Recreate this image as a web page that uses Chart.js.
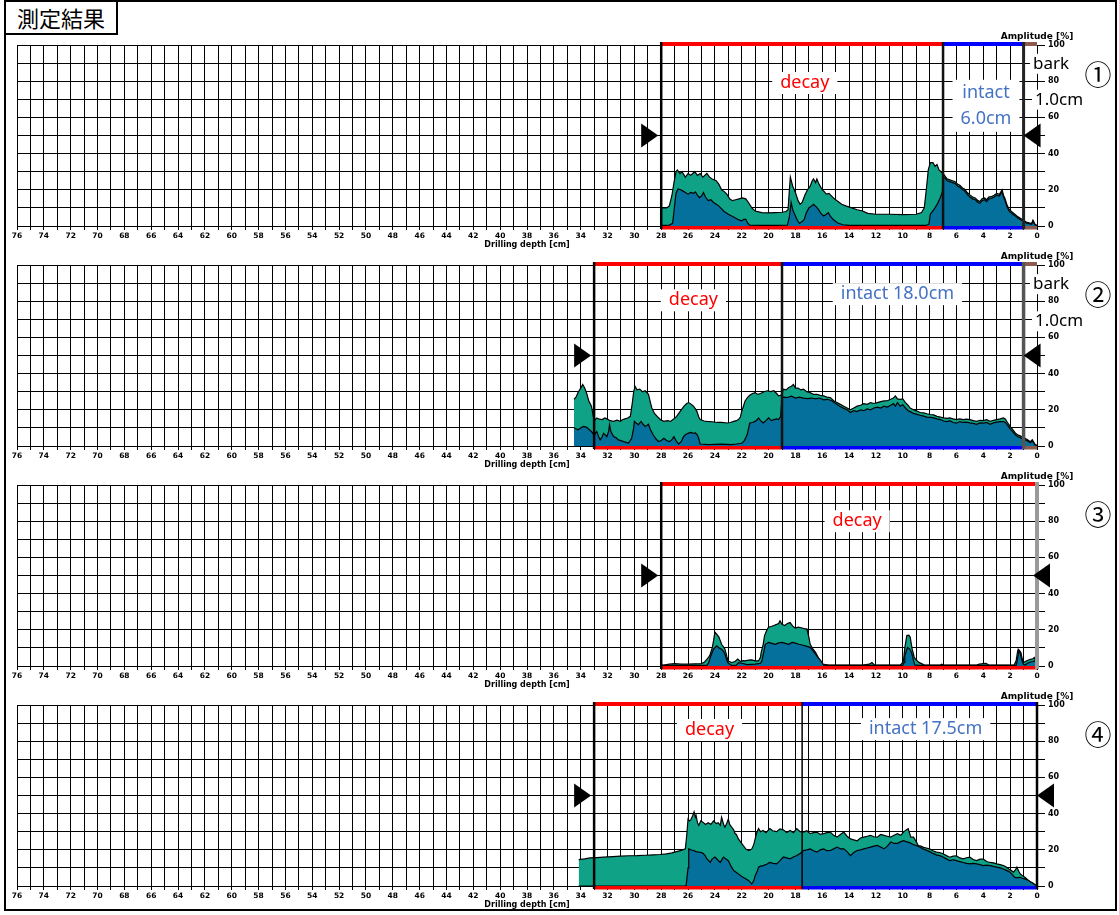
<!DOCTYPE html>
<html>
<head>
<meta charset="utf-8">
<script src="https://cdn.jsdelivr.net/npm/chart.js@4.4.0/dist/chart.umd.min.js"></script>
<style>
  body { margin: 0; background: #fff; }
  #wrap { position: relative; width: 1119px; height: 915px; overflow: hidden; }
  #frame { position: absolute; left: 4px; top: 0; width: 1113px; height: 911px; border: 2px solid #000; box-sizing: border-box; }
  #title { position: absolute; left: 4px; top: 0; width: 114px; height: 35px; border: 2px solid #000; box-sizing: border-box;
           background: #fff; font: 22px "Noto Sans CJK JP"; line-height: 30px; padding-left: 11px; }
  canvas.panel { position: absolute; left: 0; }
</style>
</head>
<body>
<div id="wrap">
  <div id="frame"></div>
  <canvas id="c1" class="panel" width="1119" height="240" style="top:20px"></canvas>
  <canvas id="c2" class="panel" width="1119" height="240" style="top:240px"></canvas>
  <canvas id="c3" class="panel" width="1119" height="240" style="top:460px"></canvas>
  <canvas id="c4" class="panel" width="1119" height="240" style="top:680px"></canvas>
  <div id="title">測定結果</div>
</div>
<script>
// [depth cm, amplitude %] — green = drill resistance, blue = feed force
const p1Drill = [[28,10],[27.6,10],[27.4,11],[27.2,17],[27.05,24],[26.9,30],[26.8,31],[26.6,29],[26.45,30],[26.2,27],[26,29],[25.8,28],[25.5,30],[25.3,28],[25.1,29],[24.9,27],[24.6,29],[24.4,27],[24.2,26],[23.9,25],[23.7,23],[23.5,20],[23.3,19],[23.1,17.5],[22.9,15],[22.7,14],[22.45,14.5],[22.2,15],[21.95,15.5],[21.7,15],[21.5,13],[21.25,10],[21,8.3],[20.5,7.4],[20,7.2],[19.5,7.4],[19,7.6],[18.7,8],[18.55,9],[18.45,20],[18.38,27],[18.2,22],[18,18.5],[17.8,14],[17.65,12],[17.5,13],[17.3,17],[17.1,20],[16.9,22],[16.75,25],[16.65,26],[16.5,24],[16.4,26],[16.3,24],[16.15,22],[16,20],[15.85,19],[15.7,17.6],[15.5,18],[15.3,16.5],[15.1,15],[14.9,14],[14.55,12],[14.2,11],[13.8,10],[13.4,9],[13,8.3],[12.6,7],[12,6.5],[11,6.5],[10,6.3],[9,6.5],[8.6,7.4],[8.4,10],[8.25,20],[8.1,31],[7.95,35],[7.75,35],[7.6,33],[7.45,34],[7.3,31],[7.15,30],[7,29],[6.85,27.5],[6.7,26],[6.5,25.5],[6.3,25],[6.1,24.5],[5.9,23],[5.75,22.5],[5.55,21],[5.4,20.5],[5.2,18.5],[5,17.2],[4.8,16],[4.6,15.5],[4.4,14],[4.25,13.5],[4.1,15],[3.9,15.5],[3.75,14.5],[3.6,16],[3.4,16.2],[3.2,17],[3,18],[2.8,17.5],[2.6,20],[2.5,17],[2.4,15.5],[2.25,12],[2.1,9.5],[1.9,8],[1.7,6.8],[1.5,5.5],[1.3,4.5],[1,3.2],[0.8,2.2],[0.6,1.8],[0.4,1.4],[0.3,3.2],[0.15,1],[0,0.3]];
const p1Feed = [[28,0.3],[27.4,0.5],[27.15,1.5],[27.05,8],[26.9,18],[26.75,20.5],[26.55,20],[26.4,19.4],[26.2,18.5],[26,17.6],[25.8,18.5],[25.6,18],[25.45,18.8],[25.3,17],[25.15,15.7],[25,16.5],[24.85,18.5],[24.7,16],[24.5,14],[24.3,14.5],[24.1,13],[23.9,12],[23.7,11],[23.5,9.5],[23.35,8.3],[23.2,7.5],[23,6.5],[22.75,5.5],[22.5,4.6],[22.25,3.5],[22,2.8],[21.85,3.7],[21.7,3.7],[21.55,1.5],[21.4,0.4],[20,0.3],[18.6,0.4],[18.45,5],[18.32,13],[18.2,9],[18,5.5],[17.85,3],[17.7,1.5],[17.5,2.5],[17.35,3.5],[17.2,7],[17,10],[16.8,11],[16.65,12],[16.5,11],[16.3,9.3],[16.1,7],[15.9,5.5],[15.7,6.5],[15.55,7.4],[15.4,5.5],[15.2,3.7],[15,2.5],[14.8,1.5],[14.45,0.7],[14,0.3],[8.3,0.3],[8.05,1],[7.95,6.5],[7.8,8],[7.6,10],[7.4,12.5],[7.2,15.7],[7.05,19],[7,27],[6.85,26.5],[6.7,25],[6.5,24.5],[6.3,24],[6.1,23.5],[5.9,22],[5.75,21.5],[5.55,20],[5.4,19.5],[5.2,17.5],[5,16],[4.8,15],[4.6,14.5],[4.4,13],[4.25,12.5],[4.1,14],[3.9,14.5],[3.75,13.5],[3.6,15],[3.4,15.2],[3.2,16],[3,17],[2.8,16.5],[2.6,19],[2.5,16],[2.4,14.5],[2.25,11],[2.1,8.5],[1.9,7],[1.7,6],[1.5,4.8],[1.3,3.8],[1,2.6],[0.8,1.7],[0.6,1.3],[0.4,1],[0.3,2.8],[0.15,0.7],[0,0.2]];

const p2Drill = [[34.5,25.8],[34.35,27],[34.2,29.5],[34,32],[33.85,34],[33.7,32],[33.55,29],[33.4,25],[33.2,22],[33.05,16],[32.9,14.6],[32.8,15.5],[32.6,14.8],[32.4,14.6],[32.2,15.5],[32.05,15],[31.8,14],[31.55,13.6],[31.3,14.3],[31.05,13.6],[30.9,14.5],[30.7,15],[30.5,15.5],[30.3,16.4],[30.15,24],[30.05,30],[29.95,33],[29.8,31],[29.6,31.4],[29.4,30],[29.2,30.5],[28.95,28.6],[28.8,24],[28.7,21],[28.5,18],[28.3,16.4],[28.05,14.5],[27.8,13.6],[27.55,14],[27.3,13.6],[27.05,15],[26.85,16.4],[26.6,19],[26.3,22],[26.1,23.5],[25.95,24],[25.75,23],[25.6,22],[25.45,20.5],[25.35,19.3],[25.2,16],[25.1,14.6],[24.8,13.8],[24.6,13.6],[24.2,13.4],[23.85,13],[23.5,13],[23.1,12.7],[22.85,13],[22.6,13.6],[22.4,14],[22.25,14.6],[22.1,16],[22,19.3],[21.85,22.5],[21.75,24.9],[21.55,27],[21.4,28],[21.2,29],[21,29.5],[20.8,28.5],[20.6,29],[20.35,30],[20.1,30.5],[19.85,30],[19.6,30.5],[19.4,29],[19.25,27.7],[19.1,28],[19,29],[18.9,31.4],[18.7,31],[18.5,32.3],[18.3,33],[18.15,34],[18,32],[17.8,32],[17.6,31],[17.4,31.4],[17.15,30],[16.9,29.5],[16.65,28.5],[16.4,28.6],[16.15,28],[15.9,27.7],[15.65,27],[15.4,26.7],[15.15,25],[14.9,24],[14.65,23],[14.4,22],[14.15,21],[13.9,20],[13.65,21],[13.4,22],[13.15,22.5],[12.9,23.4],[12.65,23],[12.4,24],[12.15,23.5],[11.9,24],[11.65,24.5],[11.4,24.9],[11.15,25],[10.9,25.8],[10.7,26.5],[10.55,27.7],[10.4,26],[10.2,25.8],[10,26],[9.8,24],[9.6,22.5],[9.45,21],[9.2,20],[8.95,19.3],[8.7,18.5],[8.45,18.3],[8.2,17.8],[7.95,17.4],[7.7,17.2],[7.45,16.4],[7.2,16],[6.95,15.5],[6.7,15.3],[6.5,15.5],[6.25,15],[6,14.6],[5.75,15],[5.5,14.6],[5.25,14.8],[5,14.6],[4.75,14],[4.5,13.6],[4.25,14.2],[4,14],[3.75,14.5],[3.5,13.6],[3.25,14.2],[3,14.6],[2.75,15],[2.5,15.5],[2.35,14.8],[2.2,13],[2,10.8],[1.8,9],[1.6,7],[1.4,6],[1.25,5.6],[1.1,5],[0.9,4.3],[0.7,3.5],[0.5,2.4],[0.35,3.5],[0.15,1],[0,0.3]];
const p2Feed = [[34.5,10],[34.35,9.5],[34.2,9],[34,10],[33.8,10.8],[33.55,10.3],[33.35,9],[33.2,8],[33,6],[32.8,8],[32.65,5],[32.55,3.4],[32.4,5],[32.3,7],[32.15,6],[32.05,5.2],[31.92,8],[31.85,11.8],[31.75,8],[31.55,5.2],[31.35,4.5],[31.2,3.4],[31,3],[30.8,2.4],[30.6,2],[30.45,1.5],[30.2,4.3],[30.05,10],[30,13.6],[29.85,12.5],[29.7,11.8],[29.5,13.6],[29.35,12],[29.2,10.8],[29.05,11.5],[28.95,12],[28.8,9],[28.6,6.2],[28.4,4],[28.2,2.4],[28,3],[27.8,4.3],[27.6,3],[27.4,2.4],[27.2,3.5],[27.05,5.2],[26.9,3],[26.7,1.1],[26.5,2.5],[26.35,5],[26.2,6.2],[26,7],[25.8,7.5],[25.6,7],[25.45,7.2],[25.3,6],[25.2,4],[25.1,1.1],[24.5,0.8],[23.5,1],[22.8,0.8],[22.4,1.1],[22,1.5],[21.8,3],[21.6,6.2],[21.4,12.7],[21.2,13],[21,13.6],[20.85,14.5],[20.75,15.5],[20.6,14],[20.4,12.7],[20.2,14],[20,15.5],[19.8,14],[19.6,14.6],[19.4,15],[19.25,14.6],[19.1,16.4],[19,26.7],[18.9,27],[18.6,26.8],[18.3,27.5],[18,26.5],[17.7,27],[17.4,26.5],[17.1,26.2],[16.8,26.5],[16.5,26],[16.2,26.5],[15.9,25.5],[15.6,25.8],[15.3,25],[15,23.5],[14.7,22],[14.4,20.8],[14.15,20],[13.9,18.5],[13.65,19.5],[13.4,19],[13.15,20],[12.9,19.5],[12.65,20.5],[12.4,20],[12.15,21],[11.9,21.5],[11.65,21],[11.4,22],[11.15,21.5],[10.9,22.5],[10.7,23.5],[10.55,22],[10.4,24],[10.2,22],[10,22.8],[9.8,21],[9.6,19.5],[9.45,19],[9.2,18],[8.95,17.5],[8.7,17],[8.45,16.5],[8.2,16],[7.95,15.8],[7.7,15.5],[7.45,15],[7.2,14.6],[6.95,13.8],[6.7,13.5],[6.5,14],[6.25,13],[6,12.6],[5.75,13.5],[5.5,13],[5.25,13.2],[5,12.8],[4.75,12.5],[4.5,12],[4.25,12.8],[4,12.6],[3.75,13],[3.5,12],[3.25,12.8],[3,13.2],[2.75,13.5],[2.5,13.5],[2.35,13],[2.2,11.5],[2,9.5],[1.8,7.8],[1.6,6],[1.4,5],[1.25,4.6],[1.1,4],[0.9,3.5],[0.7,2.8],[0.5,1.8],[0.35,2.8],[0.15,0.7],[0,0.2]];

const p3Drill = [[28,0.5],[27.8,0.5],[27.4,1],[27,1.3],[26.5,1],[26,1],[25.5,1.2],[25,1.3],[24.8,2],[24.6,3.7],[24.45,5],[24.35,6.5],[24.2,10],[24.1,14],[24,18.7],[23.85,17.5],[23.7,16],[23.6,14],[23.5,12],[23.35,10.5],[23.25,9.3],[23.1,5],[23,2.8],[22.75,1.9],[22.5,2.5],[22.3,3.8],[22.1,2.5],[21.9,3],[21.75,2.8],[21.5,3.2],[21.25,3.4],[21,2.8],[20.75,2.8],[20.6,5],[20.55,7.5],[20.4,12],[20.3,16.8],[20.15,19.5],[20,21.5],[19.8,21.8],[19.6,22.4],[19.4,23],[19.25,23.5],[19.15,25],[19,23],[18.8,22.4],[18.6,23.5],[18.4,24],[18.2,22],[18,21],[17.8,21.5],[17.5,21],[17.3,20.5],[17.15,20.5],[17,16],[16.9,12],[16.7,9.5],[16.5,7.5],[16.3,4.7],[16.1,2.5],[16,1],[15.5,0.5],[13,0.5],[12.5,1],[12.3,1.9],[12.1,0.5],[10.2,0.5],[10.05,1.5],[9.95,2.8],[9.85,10],[9.7,16.8],[9.55,17],[9.45,16],[9.3,9.3],[9.15,5],[9.05,3.7],[8.8,2],[8.6,1.3],[8.4,0.5],[7.2,0.5],[7.1,1],[7,0.5],[4.5,0.5],[4.3,1],[4,1.3],[3.8,1.5],[3.6,0.5],[1.7,0.5],[1.55,3],[1.45,8],[1.4,9.3],[1.3,8.5],[1.2,7.5],[1.1,4],[1,1.9],[0.8,2.8],[0.5,3.7],[0.3,4],[0.2,4.7],[0.1,3],[0,2]];
const p3Feed = [[28,0.3],[24.6,0.3],[24.45,2],[24.35,4.7],[24.2,7.5],[24.1,9.3],[23.95,10.5],[23.85,11.2],[23.7,10],[23.5,9.3],[23.35,8],[23.25,6.5],[23.1,3],[23,1.5],[22.75,0.3],[22.4,0.5],[22.25,1.9],[22,1.5],[21.6,0.8],[21,1],[20.6,1.5],[20.5,2.8],[20.35,8],[20.25,12],[20,13],[19.75,12.5],[19.5,12],[19.25,12.8],[19,13],[18.75,12.5],[18.5,12],[18.25,13],[18,12.6],[17.75,12],[17.5,11.6],[17.2,11],[16.9,10.3],[16.7,8.5],[16.5,6.5],[16.3,4.5],[16.1,2.8],[15.9,0.5],[15.5,0.3],[10,0.3],[9.9,2],[9.85,5.6],[9.75,8],[9.65,10.3],[9.5,9.5],[9.35,7.5],[9.2,3],[9.1,0.6],[8.8,0.3],[1.55,0.3],[1.45,4],[1.35,8.4],[1.25,7],[1.15,3.7],[1,0.8],[0.9,0.5],[0.7,1.5],[0.5,2.2],[0.3,2.5],[0.1,3],[0,1.5]];

const p4Drill = [[34.15,14.6],[33.7,15],[33.3,15.5],[32.8,15.7],[32.3,15.9],[31.6,16.2],[31.05,16.5],[30.4,16.7],[29.8,16.8],[29.2,17],[28.6,17.2],[28.1,17.4],[27.6,17.8],[27.2,18.3],[26.85,19],[26.5,19.7],[26.2,20.5],[26.1,28],[26,37],[25.9,36],[25.8,36.5],[25.65,39],[25.55,41],[25.45,38],[25.4,39],[25.3,35],[25.2,33.5],[25.05,36],[24.85,35],[24.7,34],[24.5,35],[24.3,34],[24.1,36],[23.9,34.5],[23.75,35],[23.6,33.5],[23.5,38],[23.35,34],[23.25,32.5],[23.1,35],[23,37],[22.9,34],[22.75,32.6],[22.6,31],[22.5,29],[22.4,28.5],[22.25,26],[22.1,24.5],[21.9,22.4],[21.7,20.5],[21.5,19.6],[21.35,20],[21.25,20.5],[21.1,23],[21,26],[20.9,29],[20.75,31.7],[20.6,30],[20.4,30.7],[20.2,29.5],[19.9,31.7],[19.7,30.5],[19.4,30],[19.15,31.5],[18.9,31],[18.65,29.5],[18.4,30.7],[18.15,29.5],[17.9,31.7],[17.65,30],[17.4,29.8],[17.15,30.5],[16.9,28.9],[16.65,29.5],[16.4,29.8],[16.15,28.5],[15.9,28.9],[15.65,29.5],[15.4,29.8],[15.15,28],[14.9,27],[14.65,28.5],[14.4,29.8],[14.15,27.5],[13.9,26],[13.65,25.5],[13.4,25],[13.15,26.5],[12.9,27],[12.65,27.5],[12.4,28],[12.15,27.2],[11.9,27],[11.65,28.5],[11.4,28],[11.15,27.5],[10.9,27],[10.65,28],[10.4,28.9],[10.15,28],[9.95,29.8],[9.75,31],[9.6,31.7],[9.4,27],[9.2,27],[9,24.5],[8.85,22.4],[8.65,22],[8.5,21.5],[8.25,21],[8,20.5],[7.75,19.5],[7.5,18.7],[7.25,18.5],[7,17.8],[6.75,16.8],[6.5,15.9],[6.25,16.5],[6,16.7],[5.75,15.5],[5.5,15],[5.25,15.6],[5,15.9],[4.75,14.6],[4.5,14],[4.25,14.8],[4,14.8],[3.75,13.5],[3.5,13],[3.25,12.8],[3,12.2],[2.75,11.8],[2.5,11.3],[2.3,10.5],[2.1,9.4],[1.9,8.5],[1.75,7.6],[1.6,9],[1.5,10.4],[1.35,8],[1.25,6.7],[1.1,5.8],[0.9,4.8],[0.7,3.5],[0.5,2.4],[0.3,1.5],[0.15,0.7],[0,0.2]];
const p4Feed = [[34.15,0],[26.15,0],[26,10],[25.95,20.5],[25.8,20],[25.6,19.6],[25.4,19],[25.2,18.7],[25,18.5],[24.85,17.8],[24.7,16.5],[24.6,15],[24.45,14],[24.35,13],[24.2,15],[24,16],[23.8,14.5],[23.6,13],[23.45,15],[23.35,16],[23.2,15],[23,14],[22.8,11],[22.6,8.5],[22.4,7.5],[22.25,6.7],[22.05,5.5],[21.9,4.8],[21.7,4],[21.5,3],[21.35,2],[21.25,1.1],[21.1,3],[21,5.7],[20.85,8],[20.75,10.4],[20.6,11],[20.4,11.3],[20.15,12],[19.9,13],[19.65,12.5],[19.4,12.2],[19.15,14],[18.9,16],[18.65,15.5],[18.4,15],[18.15,16],[17.9,16.8],[17.65,18],[17.4,19.6],[17.15,20],[16.9,20.5],[16.65,19.5],[16.4,18.7],[16.15,20],[15.9,20.5],[15.65,19.5],[15.4,19.6],[15.15,20.5],[14.9,21.5],[14.65,20.5],[14.4,20.5],[14.15,19],[13.9,16.8],[13.65,18.5],[13.4,19.6],[13.15,20],[12.9,20.5],[12.65,21],[12.4,21.5],[12.15,22],[11.9,22.4],[11.65,21.5],[11.4,20.5],[11.15,22],[10.9,24.3],[10.65,23.5],[10.4,23.5],[10.15,24.5],[9.95,25],[9.75,24.5],[9.5,24],[9.25,23],[9,22.4],[8.75,21.5],[8.5,20.5],[8.25,19.8],[8,19],[7.75,18],[7.5,17.2],[7.25,16.8],[7,16],[6.75,15],[6.5,14],[6.25,14.5],[6,14],[5.75,13.5],[5.5,13],[5.25,12.5],[5,12.2],[4.75,12.5],[4.5,12.2],[4.25,11.8],[4,11.3],[3.75,11.5],[3.5,11.3],[3.25,10.8],[3,10.4],[2.75,10],[2.5,9.4],[2.25,8.5],[2,7.6],[1.8,6],[1.65,4.8],[1.45,4.6],[1.25,4.8],[1.1,4.3],[0.9,3.9],[0.7,3.3],[0.5,2.4],[0.3,1.5],[0.15,0.7],[0,0.2]];

// zone boundaries (cm) and zone types
const p1Bounds = [28, 7, 1, 0];    const p1Zones = ['decay', 'intact', 'bark'];
const p2Bounds = [33, 19, 1, 0];   const p2Zones = ['decay', 'intact', 'bark'];
const p3Bounds = [28, 0];          const p3Zones = ['decay'];
const p4Bounds = [33, 17.5, 0];    const p4Zones = ['decay', 'intact'];

const depthMin = 0, depthMax = 76;
const ampMin = 0, ampMax = 100;

const zoneColor = { decay: '#ff0000', intact: '#0000ff', bark: '#8c5a4e' };
const bigFont = '18px "Noto Sans"';
const barkFont = '17px "Noto Sans"';
const gridColor = '#000';

const decoPlugin = {
  id: 'deco',
  afterDraw(chart, args, o) {
    const { ctx, chartArea: ca } = chart;
    const xs = chart.scales.x, ys = chart.scales.y;
    const X = v => xs.getPixelForValue(v), Y = v => ys.getPixelForValue(v);
    ctx.save();
    // zone bars top and bottom
    for (let i = 0; i < o.zones.length; i++) {
      const x0 = X(o.bounds[i]), x1 = X(o.bounds[i + 1]);
      ctx.fillStyle = zoneColor[o.zones[i]];
      ctx.fillRect(x0, ca.top - 3, x1 - x0, 4);
      ctx.fillRect(x0, ca.bottom, x1 - x0, 3.5);
    }
    // boundary lines
    o.bounds.forEach((b, i) => {
      if (!o.cutW[i]) return;
      ctx.strokeStyle = o.cutC[i] || '#000';
      ctx.lineWidth = o.cutW[i];
      ctx.beginPath();
      ctx.moveTo(X(b), ca.top - 3);
      ctx.lineTo(X(b), ca.bottom + 3);
      ctx.stroke();
    });
    // start / end markers
    const yc = Y(50);
    ctx.fillStyle = '#000';
    let t = X(o.leftTip) - 3;
    ctx.beginPath(); ctx.moveTo(t, yc); ctx.lineTo(t - 17, yc - 12); ctx.lineTo(t - 17, yc + 12); ctx.closePath(); ctx.fill();
    t = X(o.rightTip);
    ctx.beginPath(); ctx.moveTo(t, yc); ctx.lineTo(t + 17, yc - 12); ctx.lineTo(t + 17, yc + 12); ctx.closePath(); ctx.fill();
    // text labels with white boxes
    ctx.textBaseline = 'middle';
    o.labels.forEach(l => {
      ctx.font = l.font;
      const w = Math.max(...l.lines.map(s => ctx.measureText(s).width));
      const cx = X(l.x), cy = Y(l.y), g = l.gap;
      const left = l.align === 'left' ? cx : cx - w / 2;
      ctx.fillStyle = '#fff';
      ctx.fillRect(left - l.pad, cy - g / 2, w + 2 * l.pad, l.lines.length * g);
      ctx.fillStyle = l.color;
      ctx.textAlign = l.align || 'center';
      l.lines.forEach((s, k) => ctx.fillText(s, cx, cy + k * g));
    });
    // axis caption and panel number
    ctx.fillStyle = '#000';
    ctx.textAlign = 'center';
    ctx.font = 'bold 9px "DejaVu Sans"';
    ctx.fillText('Amplitude [%]', ca.right, ca.top - 8);
    ctx.font = '27px "Noto Sans CJK JP"';
    ctx.fillText(o.num, X(-4.55), Y(83.5));
    ctx.restore();
  }
};

const pts = arr => arr.map(p => ({ x: p[0], y: p[1] }));

function makePanel(id, drill, feed, deco) {
  return new Chart(document.getElementById(id), {
    type: 'line',
    data: {
      datasets: [
        { label: 'feed', data: pts(feed), borderColor: '#000', borderWidth: 1.2, backgroundColor: '#05709b',
          fill: 'origin', pointRadius: 0, tension: 0 },
        { label: 'drill', data: pts(drill), borderColor: '#000', borderWidth: 1.2, backgroundColor: '#0fa286',
          fill: 'origin', pointRadius: 0, tension: 0 }
      ]
    },
    options: {
      responsive: false,
      animation: false,
      layout: { padding: { left: 17, right: 42, top: 25, bottom: 8 } },
      plugins: { legend: { display: false }, tooltip: { enabled: false }, deco: deco },
      scales: {
        x: {
          type: 'linear', reverse: true, min: depthMin, max: depthMax,
          ticks: { stepSize: 1, maxTicksLimit: 100, autoSkip: false, maxRotation: 0, padding: 2, color: '#000',
                   font: { family: 'DejaVu Sans', size: 7.5, weight: 'bold' },
                   callback: v => (v % 2 === 0 ? v : '') },
          grid: { color: gridColor, lineWidth: 1, tickLength: 4 },
          border: { color: '#000' },
          title: { display: true, text: 'Drilling depth [cm]', color: '#000', padding: { top: 0, bottom: 2 },
                   font: { family: 'DejaVu Sans', size: 8, weight: 'bold' } },
          afterFit: s => { s.height = 26; }
        },
        y: {
          position: 'right', min: ampMin, max: ampMax,
          ticks: { stepSize: 10, autoSkip: false, padding: 3, color: '#000',
                   font: { family: 'DejaVu Sans', size: 8, weight: 'bold' },
                   callback: v => (v % 20 === 0 ? v : '') },
          grid: { color: gridColor, lineWidth: 1, tickLength: 8 },
          border: { color: '#000' },
          afterFit: s => { s.width = 40; }
        }
      }
    },
    plugins: [decoPlugin]
  });
}

const decayLbl = (x, y) => ({ lines: ['decay'], x, y, color: '#ff0000', font: bigFont, gap: 22, pad: 8 });
const intactLbl = (lines, x, y, gap) => ({ lines, x, y, color: '#4472c4', font: bigFont, gap, pad: 8 });
const barkLbls = (y1, y2) => [
  { lines: ['bark'], x: 0.3, y: y1, color: '#000', font: barkFont, gap: 20, pad: 3, align: 'left' },
  { lines: ['1.0cm'], x: 0.15, y: y2, color: '#000', font: barkFont, gap: 20, pad: 3, align: 'left' }
];

makePanel('c1', p1Drill, p1Feed, {
  bounds: p1Bounds, zones: p1Zones, cutW: [2.5, 2.5, 3, 0], cutC: ['#000', '#111', '#222'],
  leftTip: 28, rightTip: 1, num: '①',
  labels: [decayLbl(17.3, 79), intactLbl(['intact', '6.0cm'], 3.8, 73.6, 26), ...barkLbls(89.6, 69.8)]
});
makePanel('c2', p2Drill, p2Feed, {
  bounds: p2Bounds, zones: p2Zones, cutW: [2.5, 2.5, 3.5, 0], cutC: ['#000', '#111', '#555'],
  leftTip: 33, rightTip: 1, num: '②',
  labels: [decayLbl(25.6, 80.5), intactLbl(['intact 18.0cm'], 10.4, 83.9, 22), ...barkLbls(89.4, 68.9)]
});
makePanel('c3', p3Drill, p3Feed, {
  bounds: p3Bounds, zones: p3Zones, cutW: [2.5, 4], cutC: ['#000', '#9a9a9a'],
  leftTip: 28, rightTip: 0.3, num: '③',
  labels: [decayLbl(13.4, 80)]
});
makePanel('c4', p4Drill, p4Feed, {
  bounds: p4Bounds, zones: p4Zones, cutW: [2.5, 1.5, 2.5], cutC: ['#000', '#000', '#000'],
  leftTip: 33, rightTip: 0, num: '④',
  labels: [decayLbl(24.4, 86.2), intactLbl(['intact 17.5cm'], 8.3, 86.7, 22)]
});
</script>
</body>
</html>
